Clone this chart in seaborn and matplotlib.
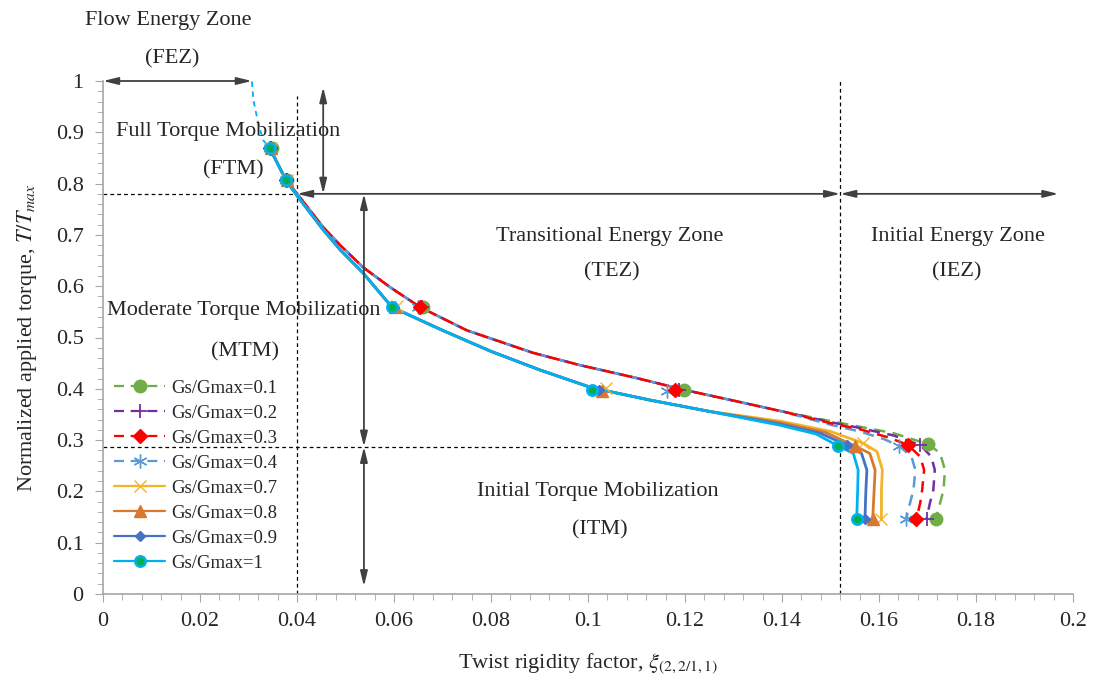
import numpy as np
import pandas as pd
import seaborn as sns
import matplotlib.pyplot as plt
from matplotlib.lines import Line2D
from matplotlib.ticker import MultipleLocator

# ---- data ----
labels = ["Gs/Gmax=0.1", "Gs/Gmax=0.2", "Gs/Gmax=0.3", "Gs/Gmax=0.4",
          "Gs/Gmax=0.7", "Gs/Gmax=0.8", "Gs/Gmax=0.9", "Gs/Gmax=1"]

# shared upper part of the dashed curves (0.1 - 0.4)
dashed_upper_x = [0.0344, 0.0377, 0.0402, 0.0454, 0.0489, 0.0536, 0.0592, 0.0654,
                  0.0750, 0.0887, 0.0984, 0.1100, 0.1198, 0.1300, 0.1400]
dashed_upper_y = [0.869, 0.807, 0.778, 0.715, 0.680, 0.637, 0.598, 0.559,
                  0.514, 0.470, 0.446, 0.421, 0.398, 0.377, 0.356]

# shared upper part of the solid curves (0.7 - 1)
solid_upper_x = [0.0344, 0.0377, 0.0402, 0.0454, 0.0489, 0.0536, 0.0596, 0.0700,
                 0.0800, 0.0900, 0.1008, 0.1128, 0.1250]
solid_upper_y = [0.869, 0.807, 0.774, 0.710, 0.671, 0.626, 0.559, 0.514,
                 0.473, 0.437, 0.402, 0.378, 0.356]

# tails, one per series
tail_x = {
    "Gs/Gmax=0.1": [0.1500, 0.1561, 0.1630, 0.1702, 0.1726, 0.1736, 0.1733, 0.1726, 0.1717],
    "Gs/Gmax=0.2": [0.1500, 0.1561, 0.1630, 0.1685, 0.1708, 0.1715, 0.1712, 0.1705, 0.1698],
    "Gs/Gmax=0.3": [0.1500, 0.1561, 0.1620, 0.1660, 0.1685, 0.1693, 0.1689, 0.1685, 0.1677],
    "Gs/Gmax=0.4": [0.1500, 0.1561, 0.1610, 0.1642, 0.1667, 0.1675, 0.1671, 0.1664, 0.1656],
    "Gs/Gmax=0.7": [0.1396, 0.1500, 0.1568, 0.1596, 0.1607, 0.1605, 0.1605],
    "Gs/Gmax=0.8": [0.1396, 0.1490, 0.1550, 0.1581, 0.1592, 0.1590, 0.1587],
    "Gs/Gmax=0.9": [0.1396, 0.1480, 0.1533, 0.1564, 0.1575, 0.1573, 0.1571],
    "Gs/Gmax=1":   [0.1396, 0.1470, 0.1516, 0.1547, 0.1557, 0.1556, 0.1554],
}
tail_y = {
    "Gs/Gmax=0.1": [0.337, 0.326, 0.3135, 0.2918, 0.2745, 0.2417, 0.2027, 0.1774, 0.146],
    "Gs/Gmax=0.2": [0.335, 0.3235, 0.309, 0.2904, 0.2677, 0.2417, 0.2027, 0.1774, 0.146],
    "Gs/Gmax=0.3": [0.333, 0.321, 0.305, 0.2904, 0.2677, 0.2417, 0.2027, 0.1774, 0.146],
    "Gs/Gmax=0.4": [0.330, 0.3166, 0.302, 0.2885, 0.2677, 0.2417, 0.2027, 0.1774, 0.146],
    "Gs/Gmax=0.7": [0.337, 0.317, 0.2937, 0.2774, 0.2417, 0.2027, 0.146],
    "Gs/Gmax=0.8": [0.334, 0.315, 0.2885, 0.2742, 0.2417, 0.2027, 0.146],
    "Gs/Gmax=0.9": [0.331, 0.313, 0.2904, 0.2742, 0.2417, 0.2027, 0.146],
    "Gs/Gmax=1":   [0.329, 0.312, 0.2885, 0.2742, 0.2417, 0.2027, 0.146],
}

# measured points (markers)
mark_x = {
    "Gs/Gmax=0.1": [0.0348, 0.0380, 0.0660, 0.1198, 0.1702, 0.1717],
    "Gs/Gmax=0.2": [0.0346, 0.0379, 0.0657, 0.1188, 0.1685, 0.1698],
    "Gs/Gmax=0.3": [0.0345, 0.0378, 0.0654, 0.1179, 0.1660, 0.1677],
    "Gs/Gmax=0.4": [0.0344, 0.0377, 0.0650, 0.1163, 0.1642, 0.1656],
    "Gs/Gmax=0.7": [0.0347, 0.0380, 0.0606, 0.1038, 0.1568, 0.1605],
    "Gs/Gmax=0.8": [0.0346, 0.0379, 0.0603, 0.1028, 0.1550, 0.1587],
    "Gs/Gmax=0.9": [0.0345, 0.0378, 0.0600, 0.1022, 0.1533, 0.1571],
    "Gs/Gmax=1":   [0.0344, 0.0377, 0.0596, 0.1008, 0.1516, 0.1554],
}
mark_y = {
    "Gs/Gmax=0.1": [0.869, 0.807, 0.559, 0.398, 0.2918, 0.146],
    "Gs/Gmax=0.2": [0.869, 0.807, 0.559, 0.397, 0.2904, 0.146],
    "Gs/Gmax=0.3": [0.869, 0.807, 0.559, 0.397, 0.2904, 0.146],
    "Gs/Gmax=0.4": [0.869, 0.807, 0.559, 0.395, 0.2885, 0.146],
    "Gs/Gmax=0.7": [0.869, 0.807, 0.561, 0.401, 0.2937, 0.146],
    "Gs/Gmax=0.8": [0.869, 0.807, 0.559, 0.395, 0.2885, 0.146],
    "Gs/Gmax=0.9": [0.869, 0.807, 0.559, 0.398, 0.2904, 0.146],
    "Gs/Gmax=1":   [0.869, 0.807, 0.559, 0.398, 0.2885, 0.146],
}

# dashed extension of Gs/Gmax=1 up to T/Tmax = 1
fez_x = [0.0307, 0.0310, 0.0320, 0.0330, 0.0344]
fez_y = [0.999, 0.963, 0.918, 0.885, 0.869]

colors = {"Gs/Gmax=0.1": "#70AD47", "Gs/Gmax=0.2": "#7030A0", "Gs/Gmax=0.3": "#FF0000",
          "Gs/Gmax=0.4": "#5B9BD5", "Gs/Gmax=0.7": "#F2B52A", "Gs/Gmax=0.8": "#D9782F",
          "Gs/Gmax=0.9": "#4472C4", "Gs/Gmax=1": "#00B0F0"}
marker_style = {
    "Gs/Gmax=0.1": dict(marker="o", ms=9, mfc="#70AD47", mec="#70AD47"),
    "Gs/Gmax=0.2": dict(marker="+", ms=10, mew=1.3, mfc="#7030A0", mec="#7030A0"),
    "Gs/Gmax=0.3": dict(marker="D", ms=7.5, mfc="#FF0000", mec="#FF0000"),
    "Gs/Gmax=0.4": dict(marker=(6, 2, 0), ms=10, mew=1.0, mfc="#5B9BD5", mec="#5B9BD5"),
    "Gs/Gmax=0.7": dict(marker="x", ms=8, mew=1.0, mfc="#F2B52A", mec="#F2B52A"),
    "Gs/Gmax=0.8": dict(marker="^", ms=8, mfc="#D9782F", mec="#D9782F"),
    "Gs/Gmax=0.9": dict(marker="D", ms=5.5, mfc="#4472C4", mec="#4472C4"),
    "Gs/Gmax=1":   dict(marker="o", ms=7.5, mew=1.8, mfc="#00B050", mec="#00B0F0"),
}
dashed = ["Gs/Gmax=0.1", "Gs/Gmax=0.2", "Gs/Gmax=0.3", "Gs/Gmax=0.4"]
dash_pat = (0, (4.5, 3))
draw_order = ["Gs/Gmax=0.1", "Gs/Gmax=0.2", "Gs/Gmax=0.4", "Gs/Gmax=0.3",
              "Gs/Gmax=0.7", "Gs/Gmax=0.8", "Gs/Gmax=0.9", "Gs/Gmax=1"]

sns.set_style("ticks")
plt.rcParams["font.family"] = ["Liberation Serif", "DejaVu Serif"]
plt.rcParams["mathtext.fontset"] = "stix"

fig = plt.figure(figsize=(10.95, 6.8), dpi=100)
ax = fig.add_axes([103 / 1095, 86 / 680, 970 / 1095, 513 / 680])

# dashed group first, then the solid group on top (cyan last)
for i, lab in enumerate(draw_order):
    if lab in dashed:
        xs = dashed_upper_x + tail_x[lab]
        ys = dashed_upper_y + tail_y[lab]
        ls = (i * 2.0, (4.5, 3))
        lw = 1.8
    else:
        xs = solid_upper_x + tail_x[lab]
        ys = solid_upper_y + tail_y[lab]
        ls = "-"
        lw = 2.0
    df = pd.DataFrame({"x": xs, "y": ys})
    sns.lineplot(data=df, x="x", y="y", sort=False, estimator=None, ax=ax,
                 color=colors[lab], lw=lw, linestyle=ls)
    ax.plot(mark_x[lab], mark_y[lab], linestyle="none", zorder=4, **marker_style[lab])

ax.plot(fez_x, fez_y, color="#00B0F0", lw=1.3, linestyle=(0, (3, 2.5)))

# reference lines
ref = dict(color="black", lw=0.9, linestyle=(0, (3, 2.5)), zorder=1)
ax.plot([0.040, 0.040], [0, 0.97], **ref)
ax.plot([0, 0.040], [0.78, 0.78], **ref)
ax.plot([0, 0.152], [0.287, 0.287], **ref)
ax.plot([0.152, 0.152], [0, 1.0], **ref)

# zone arrows
arr = dict(arrowstyle="<|-|>,head_length=0.9,head_width=0.22", color="#404040",
           lw=1.3, shrinkA=0, shrinkB=0)
for (x0, y0), (x1, y1) in [((0, 1.0), (0.0307, 1.0)),
                           ((0.0454, 0.988), (0.0454, 0.780)),
                           ((0.040, 0.78), (0.152, 0.78)),
                           ((0.152, 0.78), (0.197, 0.78)),
                           ((0.0538, 0.780), (0.0538, 0.287)),
                           ((0.0538, 0.287), (0.0538, 0.015))]:
    ax.annotate("", xy=(x1, y1), xytext=(x0, y0), arrowprops=arr, annotation_clip=False)

texts = [("Flow Energy Zone", 0.0134, 1.118), ("(FEZ)", 0.0142, 1.043),
         ("Full Torque Mobilization", 0.0258, 0.9025), ("(FTM)", 0.0268, 0.826),
         ("Transitional Energy Zone", 0.1045, 0.696), ("(TEZ)", 0.105, 0.628),
         ("Initial Energy Zone", 0.1763, 0.696), ("(IEZ)", 0.176, 0.628),
         ("Moderate Torque Mobilization", 0.029, 0.552), ("(MTM)", 0.0293, 0.472),
         ("Initial Torque Mobilization", 0.102, 0.199), ("(ITM)", 0.1025, 0.125)]
for t, x, y in texts:
    ax.text(x, y, t, ha="center", va="center", fontsize=16, color="#262626")

ax.set_xlim(0, 0.2)
ax.set_ylim(0, 1)
ax.xaxis.set_minor_locator(MultipleLocator(0.004))
ax.yaxis.set_minor_locator(MultipleLocator(0.02))
ax.set_xticks(np.arange(0, 0.2001, 0.02))
ax.set_xticklabels(["0", "0.02", "0.04", "0.06", "0.08", "0.1", "0.12", "0.14", "0.16", "0.18", "0.2"])
ax.set_yticks(np.arange(0, 1.001, 0.1))
ax.set_yticklabels(["0", "0.1", "0.2", "0.3", "0.4", "0.5", "0.6", "0.7", "0.8", "0.9", "1"])
ax.tick_params(which="major", length=6, color="#A6A6A6", labelsize=16, labelcolor="#262626")
ax.tick_params(axis="y", which="major", pad=8)
ax.tick_params(axis="x", which="major", pad=7)
ax.tick_params(which="minor", length=4, color="#A6A6A6")
sns.despine(ax=ax)
for s in ["left", "bottom"]:
    ax.spines[s].set_color("#A6A6A6")
    ax.spines[s].set_linewidth(1.2)

ax.set_xlabel(r"Twist rigidity factor, $\xi_{(2,2/1,1)}$", fontsize=16, color="#262626", labelpad=15)
ax.set_ylabel(r"Normalized applied torque, $T/T_{max}$", fontsize=16, color="#262626", labelpad=12)

handles = []
for lab in labels:
    ls = dash_pat if lab in dashed else "-"
    handles.append(Line2D([], [], color=colors[lab], lw=1.6, linestyle=ls, **marker_style[lab]))
ax.legend(handles, labels, loc="upper left", bbox_to_anchor=(0.0, 0.44), frameon=False,
          fontsize=13.5, handlelength=2.7, labelspacing=0.42, handletextpad=0.35,
          borderaxespad=0.2)

fig.savefig("out.png", dpi=100)
